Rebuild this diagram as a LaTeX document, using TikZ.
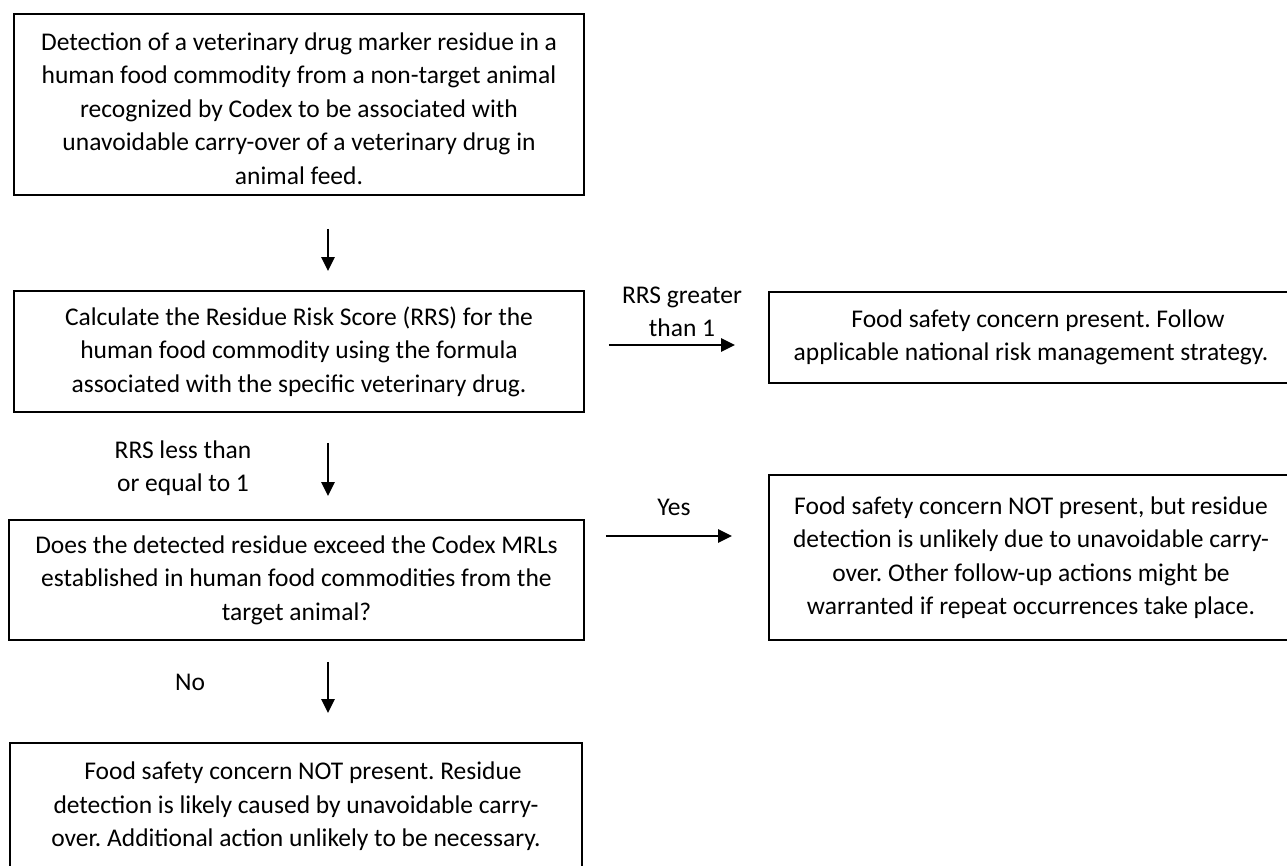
\documentclass[tikz,border=0pt]{standalone}
\usepackage{fontspec}
\setmainfont{Carlito}
\frenchspacing
\usetikzlibrary{arrows.meta}
\begin{document}
\begin{tikzpicture}
  [x=1pt, y=-1pt,
  etape/.style={
    draw=black,
    rectangle,
    line width=1.8pt,
    inner sep=0pt,
    align=center,
    font=\fontsize{25.5}{33.5}\selectfont},
  fleche/.style={
    line width=2.7pt,
    -{Triangle[length=14pt,width=13pt]}},
  legende/.style={
    align=center,
    inner sep=0pt,
    font=\fontsize{25.5}{33}\selectfont}]

  \useasboundingbox (0,0) rectangle (1287,866);

  \node [etape, minimum width=570pt, minimum height=181pt] at (299,104.5) (detection) {
    \rule{0pt}{26pt}Detection of a veterinary drug marker residue in a\\
    human food commodity from a non-target animal\\
    recognized by Codex to be associated with\\
    unavoidable carry-over of a veterinary drug in\\
    animal feed.
  };

  \node [etape, minimum width=570pt, minimum height=121pt] at (299,351.5) (score) {
    Calculate the Residue Risk Score (RRS) for the\\
    human food commodity using the formula\\
    associated with the specific veterinary drug.
  };

  \node [etape, minimum width=524pt, minimum height=91pt] at (1031,337.5) (concern) {
    \hspace{14pt}Food safety concern present. Follow\\
    applicable national risk management strategy.
  };

  \node [etape, minimum width=575pt, minimum height=120pt] at (296.5,580) (exceed) {
    Does the detected residue exceed the Codex MRLs\\
    established in human food commodities from the\\
    target animal?
  };

  \node [etape, minimum width=524pt, minimum height=165pt] at (1031,557.5) (nocarry) {
    Food safety concern NOT present, but residue\\
    detection is unlikely due to unavoidable carry-\\
    over. Other follow-up actions might be\\
    warranted if repeat occurrences take place.
  };

  \node [etape, minimum width=572pt, minimum height=127pt] at (296,806.5) (likely) {
    \hspace{14pt}Food safety concern NOT present. Residue\\
    detection is likely caused by unavoidable carry-\\
    over. Additional action unlikely to be necessary.
  };

  \node [legende] at (682,312) (greater) {RRS greater\\ than 1};
  \node [legende] at (183,468) (lessequal) {RRS less than\\ or equal to 1};
  \node [legende] at (674,507) (yes) {Yes};
  \node [legende] at (190,682) (no) {No};

  \draw [fleche, shorten <=33pt, shorten >=19pt] ([xshift=29pt]detection.south) -- ([xshift=29pt]detection.south |- score.north);
  \draw [fleche, shorten <=30pt, shorten >=23pt] ([xshift=29pt]score.south) -- ([xshift=29pt]score.south |- exceed.north);
  \draw [fleche, shorten <=21pt, shorten >=29pt] ([xshift=31.5pt]exceed.south) -- ([xshift=31.5pt]exceed.south |- likely.north);
  \draw [fleche, shorten <=24pt, shorten >=33pt] ([yshift=6.5pt]score.east) -- ([yshift=6.5pt]score.east -| concern.west);
  \draw [fleche, shorten <=21pt, shorten >=36pt] ([yshift=44pt]exceed.east) -- ([yshift=44pt]exceed.east -| nocarry.west);
\end{tikzpicture}
\end{document}
